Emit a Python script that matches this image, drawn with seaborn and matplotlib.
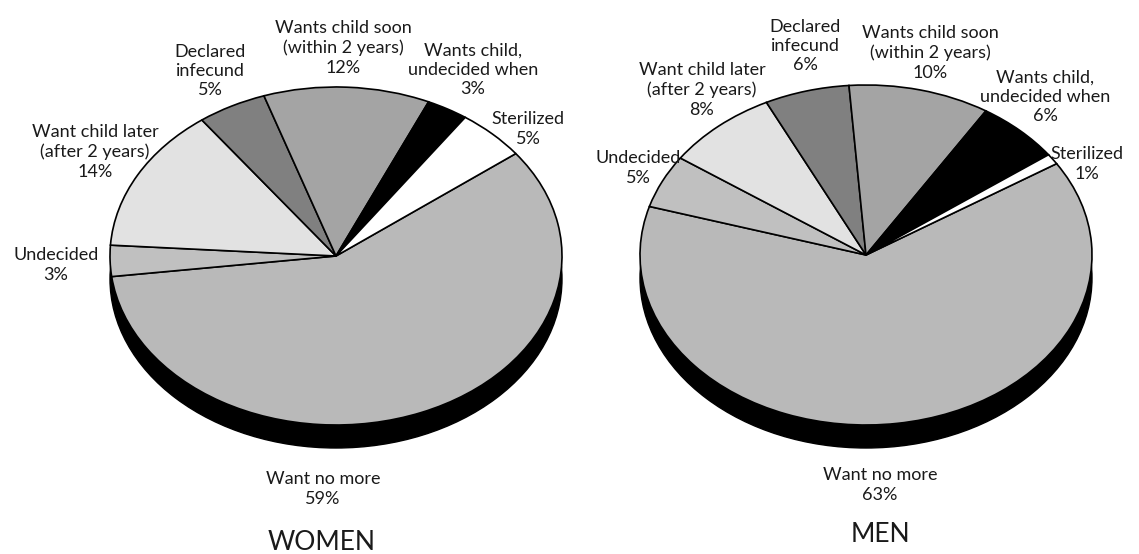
import matplotlib
matplotlib.use("Agg")
import matplotlib.pyplot as plt
from matplotlib.patches import Ellipse, Rectangle
import seaborn as sns

# Survey shares, listed clockwise starting from "Want no more"
categories = [
    "Want no more",
    "Undecided",
    "Want child later\n(after 2 years)",
    "Declared\ninfecund",
    "Wants child soon\n(within 2 years)",
    "Wants child,\nundecided when",
    "Sterilized",
]
women_values = [59, 3, 14, 5, 12, 3, 5]
men_values = [63, 5, 8, 6, 10, 6, 1]
panel_titles = ["WOMEN", "MEN"]

slice_colors = ["#b9b9b9", "#c0c0c0", "#e2e2e2", "#808080", "#a4a4a4", "#000000", "#ffffff"]

sns.set_theme(style="white")
plt.rcParams["font.family"] = ["Lato", "DejaVu Sans"]

W, H = 1139, 554
fig = plt.figure(figsize=(W / 100, H / 100), dpi=100)
fig.patch.set_facecolor("white")


def pie_axes(cx, cy, rx, ry):
    return fig.add_axes([(cx - rx) / W, 1 - (cy + ry) / H, 2 * rx / W, 2 * ry / H])


def draw_pie(ax, values, start, depth):
    # side of the disc
    ax.add_patch(Rectangle((-1, -depth), 2, depth, facecolor="black",
                           edgecolor="none", zorder=1, clip_on=False))
    ax.add_patch(Ellipse((0, -depth), 2, 2, facecolor="black",
                         edgecolor="black", zorder=1, clip_on=False))
    ax.pie(values, colors=slice_colors, startangle=start,
           counterclock=False, radius=1,
           wedgeprops=dict(edgecolor="black", linewidth=1.2,
                           zorder=3, clip_on=False))
    ax.set_aspect("auto")
    ax.set_xlim(-1, 1)
    ax.set_ylim(-1, 1)
    ax.axis("off")


ax_w = pie_axes(336, 256, 226, 169)
draw_pie(ax_w, women_values, 37.3, 23 / 169)
ax_m = pie_axes(866, 255, 226, 170)
draw_pie(ax_m, men_values, 32.5, 23 / 170)

# label layer in pixel coordinates
lab = fig.add_axes([0, 0, 1, 1])
lab.set_xlim(0, W)
lab.set_ylim(H, 0)
lab.axis("off")

women_label_pos = [(323, 489), (56, 265), (95, 152), (210, 71), (343, 48), (473, 70), (528, 129)]
men_label_pos = [(880, 485), (638, 168), (702, 90), (805, 46), (930, 53), (1045, 97), (1087, 164)]

for values, positions in [(women_values, women_label_pos), (men_values, men_label_pos)]:
    for name, v, (x, y) in zip(categories, values, positions):
        lab.text(x, y, f"{name}\n{v}%", ha="center", va="center",
                 fontsize=13, color="#1a1a1a", linespacing=1.25)

lab.text(322, 543, panel_titles[0], ha="center", va="center", fontsize=19, color="#1a1a1a")
lab.text(880, 534, panel_titles[1], ha="center", va="center", fontsize=19, color="#1a1a1a")

fig.savefig("out.png", dpi=100, facecolor="white")
